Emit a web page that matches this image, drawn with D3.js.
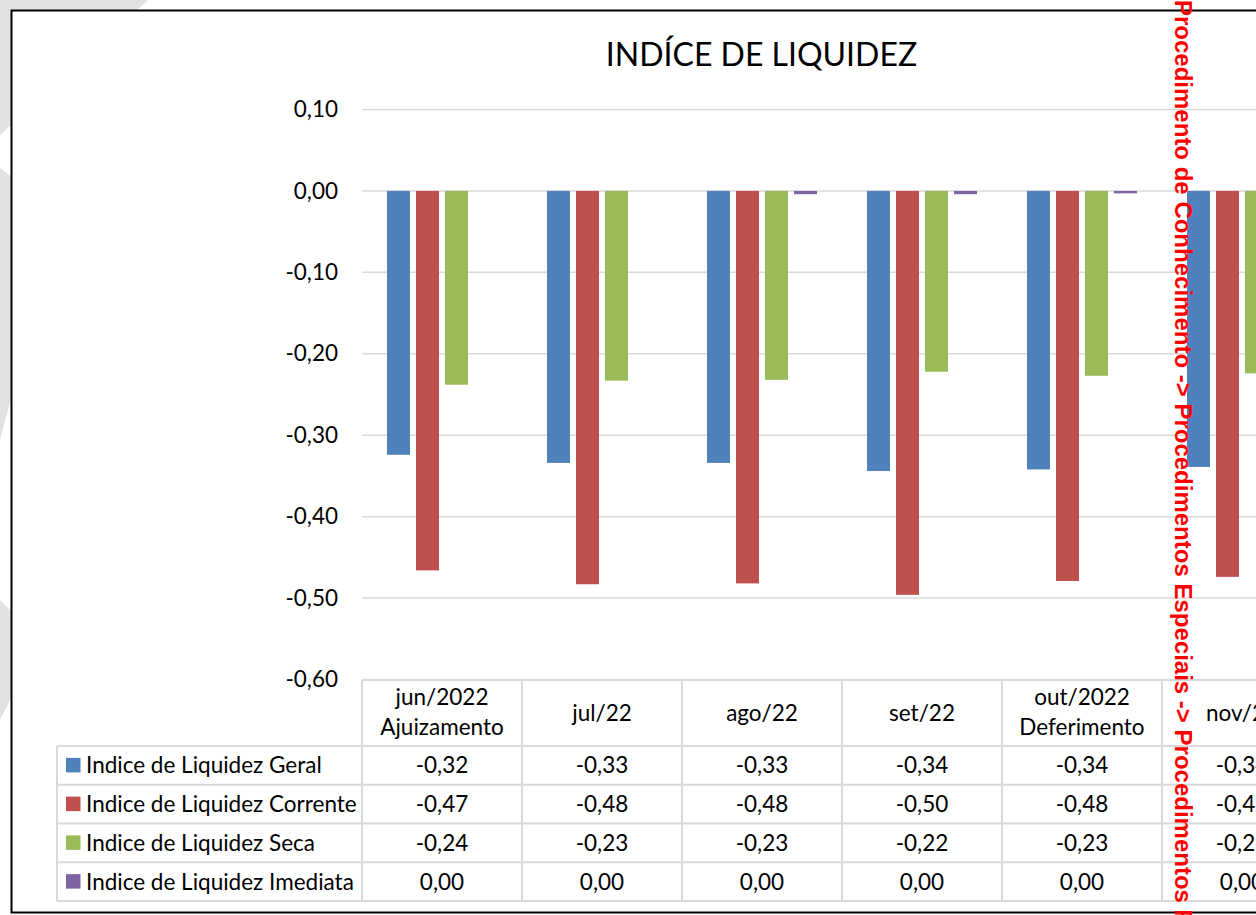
<!DOCTYPE html>
<html>
<head>
<meta charset="utf-8">
<script src="https://cdn.jsdelivr.net/npm/d3@7"></script>
<style>
  html, body { margin: 0; padding: 0; background: #fff; overflow: hidden; }
  svg { display: block; }
</style>
</head>
<body>
<svg id="chart" width="1256" height="915"></svg>
<script>
// ---- data ----
const chartTitle = "INDÍCE DE LIQUIDEZ";
const categories = ["jun/2022\nAjuizamento", "jul/22", "ago/22", "set/22", "out/2022\nDeferimento", "nov/22"];
const seriesNames = [
  "Indice de Liquidez Geral",
  "Indice de Liquidez Corrente",
  "Indice de Liquidez Seca",
  "Indice de Liquidez Imediata"
];
const liquidezGeral     = [-0.324, -0.334, -0.334, -0.344, -0.342, -0.339];
const liquidezCorrente  = [-0.466, -0.483, -0.482, -0.496, -0.479, -0.474];
const liquidezSeca      = [-0.238, -0.233, -0.232, -0.222, -0.227, -0.224];
const liquidezImediata  = [0, 0, -0.004, -0.004, -0.003, 0];
const seriesColors = ["#4f81bd", "#c0504d", "#9bbb59", "#8064a2"];
const yTickValues = [0.1, 0, -0.1, -0.2, -0.3, -0.4, -0.5, -0.6];
const classLabel = "Procedimento de Conhecimento -> Procedimentos Especiais -> Procedimentos Regidos por Outros Códigos, Leis Esparsas e Regimentos -> Recuperação Judicial";

const seriesValues = [liquidezGeral, liquidezCorrente, liquidezSeca, liquidezImediata];

// ---- layout ----
const W = 1256, H = 915;
const plotLeft = 362, bandW = 160;
const tableTop = 680, headerBottom = 746, rowH = 38.75;
const legendLeft = 57;
const font = "Lato, 'Open Sans', sans-serif";
const fs = 22.5;

const ptBR = d3.formatLocale({ decimal: ",", thousands: ".", grouping: [3], currency: ["R$", ""], minus: "-" });
const fmt = ptBR.format(".2f");

const svg = d3.select("#chart");

// background watermark shapes
const bg = svg.append("g");
bg.append("rect").attr("width", W).attr("height", H).attr("fill", "#fff");
const wm = [
  [[0, 0], [148, 0], [0, 135]],
  [[0, 168], [60, 215], [0, 440]],
  [[0, 600], [40, 640], [0, 720]]
];
bg.selectAll("polygon").data(wm).join("polygon")
  .attr("points", d => d.map(p => p.join(",")).join(" "))
  .attr("fill", "#e1e1e1");

// chart frame
svg.append("rect")
  .attr("x", 11.5).attr("y", 10.5)
  .attr("width", 1400).attr("height", 902)
  .attr("fill", "#fff").attr("stroke", "#000").attr("stroke-width", 2);

// scales
const x = d3.scaleBand().domain(categories)
  .range([plotLeft, plotLeft + bandW * categories.length])
  .paddingInner(0).paddingOuter(0);
const xs = d3.scaleBand().domain(seriesNames).range([25, 135]).paddingInner(6 / 29).paddingOuter(0);
const y = d3.scaleLinear().domain([-0.6, 0.1]).range([679.5, 109.5]);

// title
svg.append("text")
  .attr("x", 761.5).attr("y", 66)
  .attr("text-anchor", "middle")
  .attr("font-family", font).attr("font-size", 32)
  .attr("fill", "#000")
  .text(chartTitle);

// gridlines
svg.append("g").selectAll("line").data(yTickValues).join("line")
  .attr("x1", plotLeft).attr("x2", W + 200)
  .attr("y1", d => y(d)).attr("y2", d => y(d))
  .attr("stroke", "#d9d9d9").attr("stroke-width", 1.5);

// y axis labels
const yAxis = d3.axisLeft(y).tickValues(yTickValues).tickFormat(fmt).tickSize(0).tickPadding(24);
const yg = svg.append("g").attr("transform", `translate(${plotLeft},0)`).call(yAxis);
yg.select(".domain").remove();
yg.selectAll("text").attr("font-family", font).attr("font-size", fs).attr("fill", "#000");

// bars
const barData = [];
categories.forEach((c, i) => {
  seriesNames.forEach((s, j) => {
    barData.push({ cat: c, series: s, value: seriesValues[j][i], color: seriesColors[j] });
  });
});
svg.append("g").selectAll("rect").data(barData).join("rect")
  .attr("x", d => x(d.cat) + xs(d.series))
  .attr("width", xs.bandwidth())
  .attr("y", d => y(Math.max(0, d.value)))
  .attr("height", d => Math.abs(y(d.value) - y(0)))
  .attr("fill", d => d.color);

// data table
const tbl = svg.append("g");
const lineColor = "#d9d9d9";
const rowLines = d3.range(seriesNames.length + 1).map(k => headerBottom + k * rowH);
const tableRight = x.range()[1];

// header top line
tbl.append("line")
  .attr("x1", plotLeft).attr("x2", tableRight)
  .attr("y1", tableTop).attr("y2", tableTop)
  .attr("stroke", lineColor).attr("stroke-width", 2);
// row lines
tbl.selectAll("line.row").data(rowLines).join("line").attr("class", "row")
  .attr("x1", legendLeft).attr("x2", tableRight)
  .attr("y1", d => d).attr("y2", d => d)
  .attr("stroke", lineColor).attr("stroke-width", 2);
// column lines
const colEdges = categories.map(c => x(c)).concat([tableRight]);
tbl.selectAll("line.col").data(colEdges).join("line").attr("class", "col")
  .attr("x1", d => d).attr("x2", d => d)
  .attr("y1", tableTop).attr("y2", rowLines[rowLines.length - 1])
  .attr("stroke", lineColor).attr("stroke-width", 2);
tbl.append("line")
  .attr("x1", legendLeft).attr("x2", legendLeft)
  .attr("y1", headerBottom).attr("y2", rowLines[rowLines.length - 1])
  .attr("stroke", lineColor).attr("stroke-width", 2);

// header labels
const headers = tbl.selectAll("text.hdr").data(categories).join("text").attr("class", "hdr")
  .attr("text-anchor", "middle")
  .attr("font-family", font).attr("font-size", fs).attr("fill", "#000");
headers.each(function (c) {
  const lines = c.split("\n");
  const cx = x(c) + bandW / 2;
  const t = d3.select(this);
  if (lines.length === 1) {
    t.append("tspan").attr("x", cx).attr("y", 721).text(lines[0]);
  } else {
    t.append("tspan").attr("x", cx).attr("y", 705).text(lines[0]);
    t.append("tspan").attr("x", cx).attr("y", 735).text(lines[1]);
  }
});

// legend keys + value cells
seriesNames.forEach((s, j) => {
  const cy = rowLines[j] + rowH / 2;
  tbl.append("rect")
    .attr("x", 66).attr("y", cy - 7.5).attr("width", 14.5).attr("height", 14.5)
    .attr("fill", seriesColors[j]);
  tbl.append("text")
    .attr("x", 86).attr("y", cy + 8)
    .attr("font-family", font).attr("font-size", fs).attr("fill", "#000")
    .text(s);
  tbl.append("g").selectAll("text").data(categories).join("text")
    .attr("x", c => x(c) + bandW / 2).attr("y", cy + 8)
    .attr("text-anchor", "middle")
    .attr("font-family", font).attr("font-size", fs).attr("fill", "#000")
    .text((c, i) => fmt(seriesValues[j][i]));
});

// class path overlay, vertical
svg.append("text")
  .attr("transform", "translate(1175,0) rotate(90)")
  .attr("x", 0).attr("y", 0)
  .attr("font-family", "'Liberation Sans', Arial, sans-serif")
  .attr("font-weight", "bold").attr("font-size", 24)
  .attr("fill", "#ff0000")
  .text(classLabel);
</script>
</body>
</html>
